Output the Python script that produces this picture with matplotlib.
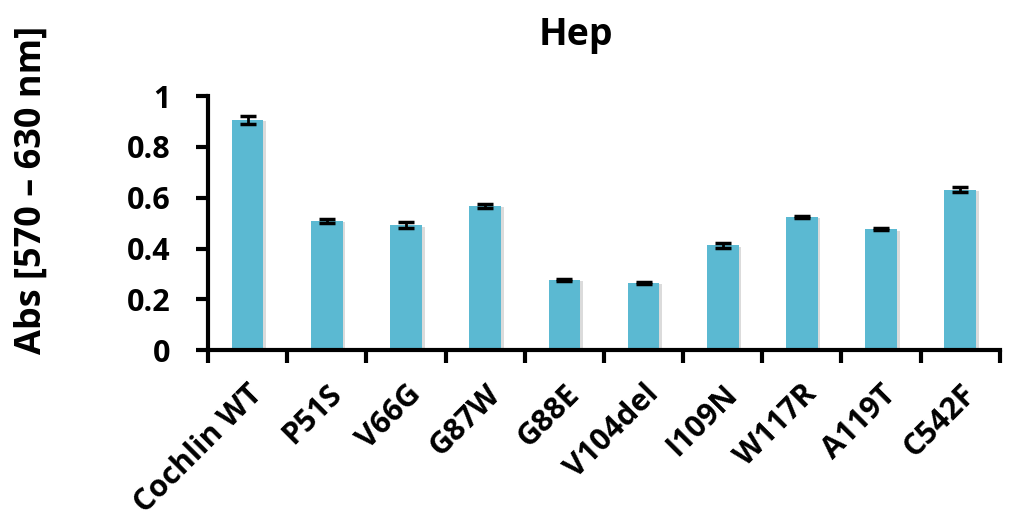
import matplotlib
matplotlib.use('Agg')
import matplotlib.pyplot as plt
import matplotlib.patheffects as pe
import matplotlib.transforms as mtransforms
import numpy as np

categories = ['Cochlin WT', 'P51S', 'V66G', 'G87W', 'G88E', 'V104del',
              'I109N', 'W117R', 'A119T', 'C542F']
values = [0.906, 0.508, 0.492, 0.567, 0.276, 0.265, 0.412, 0.526, 0.475, 0.632]
errors = [0.014, 0.008, 0.013, 0.008, 0.005, 0.003, 0.008, 0.004, 0.004, 0.010]
yticks = [0, 0.2, 0.4, 0.6, 0.8, 1]
ytick_labels = ['0', '0.2', '0.4', '0.6', '0.8', '1']

plt.rcParams['font.family'] = ['Open Sans', 'DejaVu Sans']
plt.rcParams['font.weight'] = 'bold'

fig = plt.figure(figsize=(10.15, 5.25), dpi=100)
ax = fig.add_axes([0.205, 0.333, 0.78, 0.484])

x = np.arange(len(categories))
bars = ax.bar(x, values, width=0.4, color='#5BB9D2', zorder=2)
for b in bars:
    b.set_path_effects([pe.SimplePatchShadow(offset=(2, -1), shadow_rgbFace='#999999', alpha=0.35),
                        pe.Normal()])
ax.errorbar(x, values, yerr=errors, fmt='none', ecolor='black',
            elinewidth=2, capsize=6, capthick=2.5, zorder=3)

ax.set_xlim(-0.5, len(categories) - 0.5)
ax.set_ylim(0, 1)
ax.set_yticks(yticks)
ax.set_yticklabels(ytick_labels, fontsize=22, fontweight='bold')
ax.set_xticks(x)
ax.set_xticklabels(categories, rotation=45, ha='right', rotation_mode='anchor',
                   fontsize=22, fontweight='bold')
shift = mtransforms.ScaledTranslation(6 / 100, 0, fig.dpi_scale_trans)
for lbl in ax.get_xticklabels():
    lbl.set_transform(lbl.get_transform() + shift)
ax.tick_params(axis='x', length=0, pad=21)
ax.set_xticks(np.arange(len(categories) + 1) - 0.5, minor=True)
ax.tick_params(axis='x', which='minor', length=9, width=3, direction='out')
ax.tick_params(axis='y', length=9, width=3, direction='out', pad=18)

for s in ['top', 'right']:
    ax.spines[s].set_visible(False)
for s in ['left', 'bottom']:
    ax.spines[s].set_linewidth(3)

ax.set_ylabel('Abs [570 – 630 nm]', fontsize=26, fontweight='bold')
ax.yaxis.set_label_coords(-0.2, 0.63)
fig.text(0.567, 0.914, 'Hep', fontsize=27, fontweight='bold',
         ha='center', va='baseline')

fig.savefig('out.png', dpi=100)
